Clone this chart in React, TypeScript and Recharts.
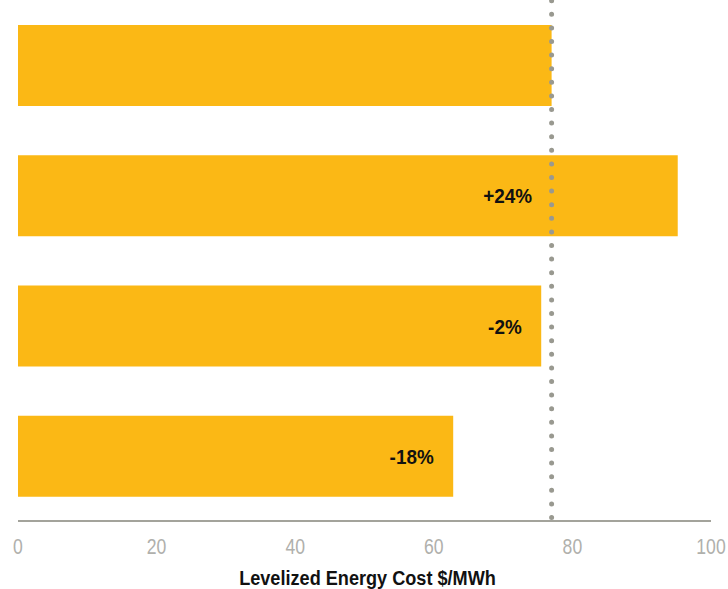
import React from "react";
import { BarChart, Bar, XAxis, YAxis, ReferenceLine, LabelList, Label } from "recharts";

// Levelized energy cost per scenario ($/MWh)
const scenarios = ["Base", "Scenario A", "Scenario B", "Scenario C"];
const costs = [77, 95.2, 75.5, 62.8];
const baselineCost = 77;
const xTicks = [0, 20, 40, 60, 80, 100];
const axisTitle = "Levelized Energy Cost $/MWh";

const data = scenarios.map((name, i) => ({
  name,
  cost: costs[i],
  change: i === 0 ? null : Math.round((costs[i] / baselineCost - 1) * 100),
}));

const FONT = "'Liberation Sans', Arial, sans-serif";
const BAR_COLOR = "#FBB815";
const GREY = "#a3a39b";

// Text drawn in a condensed style by squeezing horizontally around its anchor
const NarrowText = ({ x, y, anchor, size, weight, fill, squeeze, children }: any) => (
  <g transform={`translate(${x},${y}) scale(${squeeze},1)`}>
    <text x={0} y={0} textAnchor={anchor} fontFamily={FONT} fontWeight={weight} fontSize={size} fill={fill}>
      {children}
    </text>
  </g>
);

const ChangeLabel = (props: any) => {
  const { x, y, width, height, value } = props;
  if (value === null || value === undefined) return null;
  const cost = data[props.index].cost;
  const baseX = x + (width * baselineCost) / cost;
  const end = Math.min(x + width, baseX) - 19.5;
  const text = `${value > 0 ? "+" : ""}${value}%`;
  return (
    <NarrowText x={end} y={y + height / 2 + 7.5} anchor="end" size={21} weight="bold" fill="#111" squeeze={0.9}>
      {text}
    </NarrowText>
  );
};

const Tick = (props: any) => {
  const { x, y, payload } = props;
  return (
    <NarrowText x={x} y={y + 16} anchor="middle" size={22} weight="normal" fill="#b0b0ac" squeeze={0.8}>
      {payload.value}
    </NarrowText>
  );
};

const AxisTitle = (props: any) => {
  const vb = props.viewBox;
  return (
    <NarrowText
      x={vb.x + vb.width / 2 + 3}
      y={vb.y + vb.height - 4.5}
      anchor="middle"
      size={19.5}
      weight="bold"
      fill="#111"
      squeeze={0.93}
    >
      {axisTitle}
    </NarrowText>
  );
};

export default function App() {
  return (
    <div style={{ position: "absolute", left: 0, top: 0, background: "#fff" }}>
      <BarChart
        width={728}
        height={589}
        data={data}
        layout="vertical"
        margin={{ top: 0, right: 17, bottom: 0, left: 18 }}
        barSize={81}
      >
        <XAxis
          type="number"
          dataKey="cost"
          domain={[0, 100]}
          ticks={xTicks}
          height={68}
          axisLine={{ stroke: GREY, strokeWidth: 2 }}
          tickLine={false}
          tickSize={0}
          tickMargin={17}
          tick={<Tick />}
        >
          <Label content={<AxisTitle />} />
        </XAxis>
        <YAxis type="category" dataKey="name" hide width={0} />
        <Bar dataKey="cost" fill={BAR_COLOR} isAnimationActive={false}>
          <LabelList dataKey="change" content={ChangeLabel} />
        </Bar>
        <ReferenceLine
          x={baselineCost}
          stroke="#999990"
          strokeWidth={5}
          strokeLinecap="round"
          strokeDasharray="0 13.6"
          strokeDashoffset={-3.5}
        />
      </BarChart>
    </div>
  );
}
